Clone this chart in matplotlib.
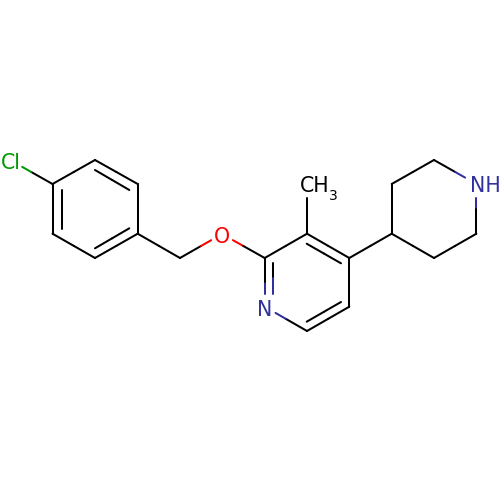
import matplotlib
matplotlib.use("Agg")
import matplotlib.pyplot as plt

# atom positions (pixels, y down)
atom_x = [52.5, 95, 137.7, 137.7, 95, 52.5, 180, 222, 264.7, 307, 349.3, 349.3, 307, 264.7, 307, 391.7, 391.7, 434, 476.4, 476.4, 434, 10]
atom_y = [184, 160, 184, 233.7, 258, 233.7, 258, 234, 258, 233.7, 258, 306.7, 331, 306.7, 184, 233.7, 184, 160, 184, 233.7, 258, 160]
atom_kind = ["C", "C", "C", "C", "C", "C", "C", "O", "C", "C", "C", "C", "C", "N", "C", "C", "C", "C", "N", "C", "C", "Cl"]

# bonds: atom a, atom b, gap at a, gap at b
bonds = [
    (0, 1, 0, 0), (1, 2, 0, 0), (2, 3, 0, 0), (3, 4, 0, 0), (4, 5, 0, 0), (5, 0, 0, 0),
    (0, 21, 0, 14), (3, 6, 0, 0), (6, 7, 0, 12.5), (7, 8, 12.5, 0),
    (8, 9, 0, 0), (9, 10, 0, 0), (10, 11, 0, 0), (11, 12, 0, 0), (12, 13, 0, 12.5), (13, 8, 12.5, 0),
    (9, 14, 0, 13.5), (10, 15, 0, 0), (15, 16, 0, 0), (16, 17, 0, 0), (17, 18, 0, 13), (18, 19, 13.5, 0),
    (19, 20, 0, 0), (20, 15, 0, 0),
]

# inner lines of the double bonds: x1, y1, x2, y2, atom colour at the far end
inner_x1 = [61.5, 95, 95, 306.7, 306.7, 273.3]
inner_y1 = [190, 170, 248.3, 243.7, 321.7, 262.7]
inner_x2 = [61.5, 129.3, 129.3, 341, 341, 273.3]
inner_y2 = [229, 190, 228.3, 263.3, 302, 294]
inner_end_kind = ["C", "C", "C", "C", "C", "N"]

colors = {"C": "#000000", "O": "#ff0000", "N": "#30309f", "Cl": "#009900"}
lw = 1.45

fig = plt.figure(figsize=(5, 5), dpi=100)
ax = fig.add_axes([0, 0, 1, 1])
ax.set_xlim(0, 500)
ax.set_ylim(500, 0)
ax.axis("off")

for a, b, gap_a, gap_b in bonds:
    xa, ya, xb, yb = atom_x[a], atom_y[a], atom_x[b], atom_y[b]
    length = ((xb - xa) ** 2 + (yb - ya) ** 2) ** 0.5
    ux, uy = (xb - xa) / length, (yb - ya) / length
    mx, my = (xa + xb) / 2, (ya + yb) / 2
    ax.plot([xa + ux * gap_a, mx], [ya + uy * gap_a, my], color=colors[atom_kind[a]], lw=lw, solid_capstyle="round")
    ax.plot([mx, xb - ux * gap_b], [my, yb - uy * gap_b], color=colors[atom_kind[b]], lw=lw, solid_capstyle="round")

for x1, y1, x2, y2, kind in zip(inner_x1, inner_y1, inner_x2, inner_y2, inner_end_kind):
    mx, my = (x1 + x2) / 2, (y1 + y2) / 2
    ax.plot([x1, mx], [y1, my], color="black", lw=lw, solid_capstyle="round")
    ax.plot([mx, x2], [my, y2], color=colors[kind], lw=lw, solid_capstyle="round")

# atom labels
fs = 14.8
ax.text(1, 161, "Cl", color=colors["Cl"], fontsize=fs, ha="left", va="center_baseline")
ax.text(222, 235, "O", color=colors["O"], fontsize=fs, ha="center", va="center_baseline")
ax.text(264.7, 307.5, "N", color=colors["N"], fontsize=fs, ha="center", va="center_baseline")
ax.text(470, 184.5, "NH", color=colors["N"], fontsize=fs, ha="left", va="center_baseline")
ax.text(300, 184.5, "CH", color="black", fontsize=fs, ha="left", va="center_baseline")
ax.text(329, 194, "3", color="black", fontsize=10, ha="left", va="center_baseline")

fig.savefig("out.png", dpi=100, facecolor="white")
